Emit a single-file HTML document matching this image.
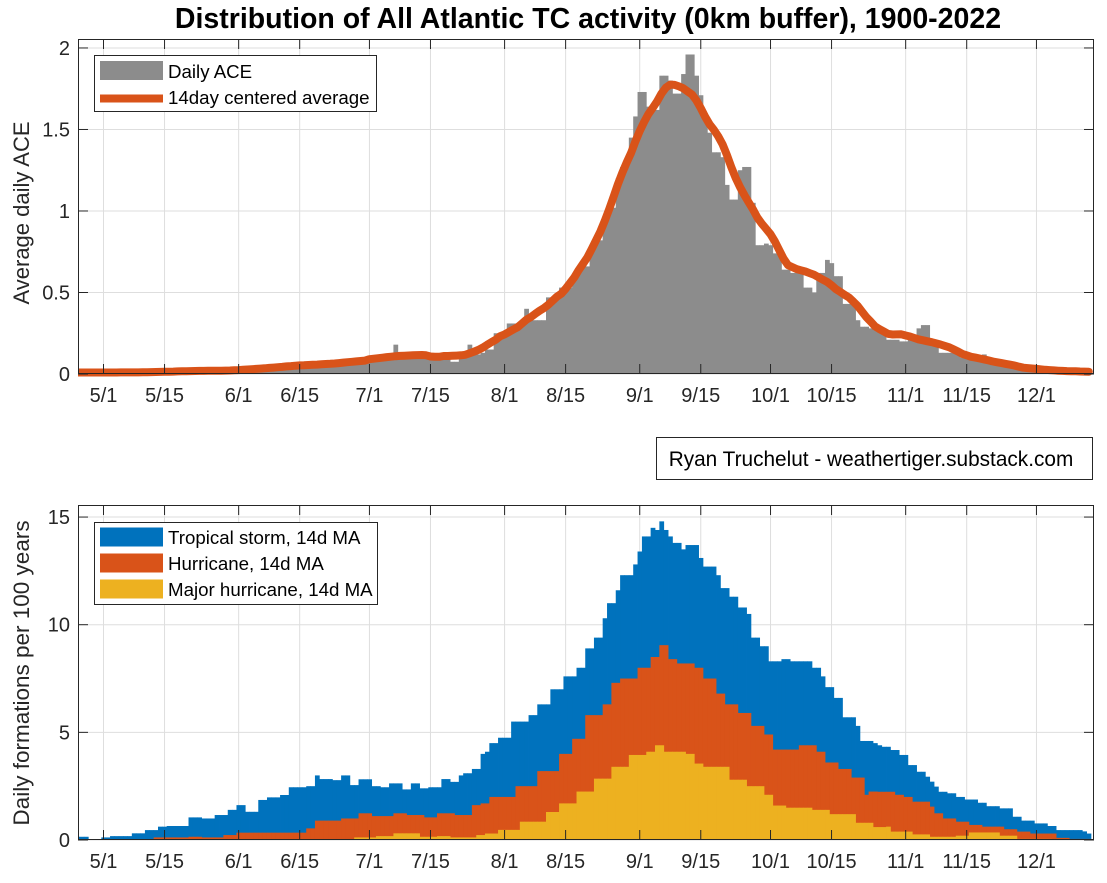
<!DOCTYPE html>
<html><head><meta charset="utf-8"><style>
html,body{margin:0;padding:0;background:#fff;}
svg{display:block;font-family:"Liberation Sans",Arial,sans-serif;}
</style></head><body>
<svg id="chart" width="1107" height="883" viewBox="0 0 1107 883">
<text x="588" y="28" text-anchor="middle" font-size="28.5" font-weight="bold" fill="#000">Distribution of All Atlantic TC activity (0km buffer), 1900-2022</text>
<g id="top"></g>
<g id="bot"></g>
<text transform="translate(29,213) rotate(-90)" text-anchor="middle" font-size="22" fill="#262626">Average daily ACE</text>
<text transform="translate(29,673) rotate(-90)" text-anchor="middle" font-size="22.5" fill="#262626">Daily formations per 100 years</text>
<g>
<rect x="656.5" y="437.5" width="436" height="42" fill="#fff" stroke="#262626" stroke-width="1"/>
<text x="871" y="466" text-anchor="middle" font-size="20.8" fill="#000">Ryan Truchelut - weathertiger.substack.com</text>
</g>
</svg>
<script>
// day index: 0 = 5/1 ; data runs from day -6 (4/25) to day 226
const startDay = -6;
const xTickDays = [0,14,31,45,61,75,92,106,123,137,153,167,184,198,214];
const xTickLabels = ["5/1","5/15","6/1","6/15","7/1","7/15","8/1","8/15","9/1","9/15","10/1","10/15","11/1","11/15","12/1"];
const topYTicks = [0,0.5,1,1.5,2];
const topYLabels = ["0","0.5","1","1.5","2"];
const botYTicks = [0,5,10,15];
const botYLabels = ["0","5","10","15"];
const dailyACE = [
0.01,0.01,0.005,0.01,0.01,0.01,
0.01,0.01,0.01,0.005,0.01,0.01,0.01,0.01,0.01,0.01,
0.01,0.01,0.01,0.01,0.015,0.015,0.015,0.015,0.02,0.02,
0.02,0.02,0.02,0.02,0.02,0.02,0.02,0.02,0.02,0.02,
0.02,0.02,0.02,0.025,0.025,0.03,0.035,0.04,0.045,0.045,
0.045,0.05,0.045,0.045,0.05,0.05,0.05,0.055,0.065,0.06,
0.065,0.065,0.06,0.065,0.07,0.065,0.065,0.07,0.07,0.075,
0.09,0.095,0.095,0.1,0.095,0.1,0.1,0.18,0.11,0.11,
0.11,0.12,0.11,0.11,0.12,0.11,0.11,0.12,0.11,0.11,
0.075,0.075,0.1,0.1,0.18,0.12,0.12,0.13,0.15,0.15,
0.25,0.25,0.26,0.31,0.31,0.31,0.31,0.40,0.33,0.33,
0.33,0.33,0.47,0.47,0.47,0.53,0.53,0.53,0.6,0.66,
0.66,0.66,0.75,0.82,0.82,0.95,1.02,1.02,1.2,1.27,
1.3,1.45,1.58,1.73,1.73,1.64,1.64,1.62,1.83,1.83,
1.8,1.72,1.72,1.84,1.96,1.96,1.83,1.71,1.6,1.48,
1.36,1.36,1.33,1.16,1.07,1.07,1.25,1.27,1.27,1.05,
0.79,0.79,0.8,0.79,0.74,0.74,0.64,0.64,0.62,0.62,
0.62,0.53,0.53,0.5,0.62,0.62,0.7,0.68,0.6,0.6,
0.43,0.43,0.43,0.33,0.29,0.29,0.28,0.27,0.26,0.25,
0.21,0.21,0.21,0.2,0.2,0.22,0.22,0.28,0.3,0.3,
0.18,0.18,0.13,0.13,0.13,0.13,0.13,0.1,0.1,0.1,
0.1,0.1,0.12,0.1,0.055,0.055,0.055,0.055,0.055,0.04,
0.035,0.035,0.03,0.03,0.03,0.025,0.025,0.02,0.02,0.02,
0.02,0.015,0.015,0.015,0.01,0.01,0.01];
const tropicalStorm = [
0.15,0.15,0.15,0,0,0,
0.12,0.12,0.18,0.18,0.18,0.18,0.18,0.31,0.31,0.31,
0.46,0.46,0.46,0.62,0.62,0.65,0.65,0.65,0.65,0.65,
1.05,1.05,1.05,1.0,1.0,1.0,1.16,1.16,1.16,1.4,
1.4,1.62,1.62,1.31,1.31,1.31,1.86,1.86,1.98,1.98,
1.98,2.09,2.09,2.45,2.45,2.45,2.45,2.5,2.5,3.0,
2.83,2.83,2.83,2.78,2.78,3.0,3.0,2.55,2.55,2.82,
2.82,2.82,2.5,2.5,2.45,2.45,2.63,2.63,2.63,2.35,
2.35,2.63,2.63,2.4,2.4,2.45,2.45,2.45,2.83,2.83,
2.7,2.7,3.0,3.1,3.1,3.3,3.3,4.0,4.1,4.5,
4.5,4.75,4.75,4.75,5.5,5.5,5.5,5.5,5.8,5.8,
6.3,6.3,6.3,7.0,7.0,7.0,7.6,7.6,7.6,8.0,
8.0,8.9,8.9,9.4,9.4,10.3,11.0,11.0,11.6,12.3,
12.3,12.3,12.8,13.4,14.1,14.1,14.5,14.4,14.8,14.4,
14.1,13.8,13.8,13.5,13.7,13.7,13.7,13.1,12.7,12.7,
12.7,12.3,11.7,11.7,11.3,11.3,10.8,10.8,10.5,9.4,
9.4,9.0,9.0,8.3,8.3,8.3,8.4,8.4,8.3,8.3,
8.3,8.3,8.3,8.0,8.0,7.6,7.1,7.1,6.6,6.6,
5.7,5.7,5.7,5.3,4.6,4.6,4.6,4.5,4.4,4.33,
4.33,4.18,4.18,3.95,3.95,3.48,3.48,3.17,3.17,2.94,
2.71,2.48,2.24,2.24,2.17,2.17,2.0,2.0,1.88,1.88,
1.88,1.73,1.73,1.57,1.57,1.57,1.47,1.47,1.47,1.08,
1.08,0.9,0.9,0.9,0.77,0.77,0.77,0.65,0.65,0.46,
0.46,0.46,0.46,0.46,0.46,0.4,0.3];
const hurricane = [
0,0,0,0,0,0,
0,0,0,0,0,0,0,0,0,0,
0,0,0.12,0.12,0.12,0.12,0.12,0.12,0.12,0.12,
0.15,0.15,0.15,0.12,0.12,0.12,0.12,0.12,0.23,0.23,
0.23,0.34,0.34,0.34,0.34,0.34,0.34,0.34,0.34,0.34,
0.34,0.34,0.34,0.34,0.34,0.34,0.34,0.54,0.54,0.9,
0.9,0.9,0.9,0.9,0.9,1.0,1.0,1.0,1.0,1.24,
1.24,1.24,1.11,1.11,1.11,1.11,1.11,1.24,1.24,1.24,
1.16,1.16,1.16,1.16,1.05,1.05,1.05,1.24,1.24,1.24,
1.24,1.16,1.16,1.16,1.16,1.62,1.62,1.7,1.7,2.0,
2.0,2.0,2.0,2.0,2.0,2.5,2.5,2.5,2.5,2.5,
3.2,3.2,3.2,3.2,3.2,4.0,4.0,4.0,4.7,4.7,
4.7,5.8,5.8,5.8,5.8,6.3,6.3,7.3,7.3,7.5,
7.5,7.5,7.5,8.0,8.0,8.0,8.5,8.5,9.05,9.05,
8.4,8.4,8.2,8.2,8.2,8.2,8.0,8.0,7.5,7.5,
7.5,6.8,6.8,6.3,6.3,6.3,5.9,5.9,5.9,5.3,
5.3,5.3,4.9,4.9,4.2,4.2,4.2,4.2,4.2,4.2,
4.4,4.4,4.4,4.4,4.1,4.1,3.6,3.6,3.6,3.3,
3.3,3.3,2.9,2.9,2.9,2.1,2.25,2.25,2.24,2.24,
2.24,2.24,2.1,2.1,2.0,2.0,1.78,1.78,1.78,1.78,
1.55,1.24,1.24,1.0,1.0,1.0,0.85,0.85,0.85,0.7,
0.7,0.7,0.62,0.62,0.62,0.62,0.62,0.5,0.5,0.5,
0.39,0.39,0.39,0.3,0.3,0.3,0.3,0.3,0.3,0.1,
0.1,0.1,0.05,0.05,0.05,0.05,0.05];
const majorHurricane = [
0,0,0,0,0,0,
0,0,0,0,0,0,0,0,0,0,
0,0,0,0,0,0,0,0,0,0,
0,0,0,0,0,0,0,0,0,0,
0,0,0,0,0,0,0,0,0,0,
0,0,0,0,0,0,0,0,0,0,
0,0,0,0,0,0,0,0,0.12,0.12,
0.12,0.12,0.12,0.18,0.18,0.18,0.18,0.31,0.31,0.31,
0.31,0.31,0.31,0.15,0.15,0.15,0.15,0.18,0.18,0.18,
0.12,0.12,0.12,0.12,0.12,0.12,0.23,0.23,0.3,0.3,
0.3,0.47,0.47,0.47,0.47,0.47,0.85,0.85,0.85,0.85,
0.85,0.85,1.3,1.3,1.3,1.7,1.7,1.7,1.7,2.25,
2.25,2.25,2.25,2.85,2.85,2.85,2.85,3.4,3.4,3.4,
3.4,3.95,3.95,3.95,3.95,4.1,4.1,4.4,4.4,4.1,
4.1,4.1,4.1,4.1,4.0,4.0,3.55,3.55,3.4,3.4,
3.4,3.4,3.4,3.4,2.8,2.8,2.8,2.8,2.5,2.5,
2.5,2.5,2.1,2.1,1.6,1.6,1.6,1.5,1.5,1.5,
1.5,1.5,1.5,1.4,1.4,1.4,1.4,1.2,1.2,1.2,
1.2,1.2,1.2,0.8,0.8,0.8,0.8,0.6,0.6,0.6,
0.62,0.39,0.39,0.39,0.39,0.39,0.26,0.26,0.26,0.26,
0.15,0.15,0.15,0.15,0.15,0.15,0.2,0.2,0.2,0.35,
0.35,0.35,0.35,0.35,0.35,0.35,0.2,0.2,0.2,0.2,
0.05,0.05,0.05,0.05,0.05,0.05,0.05,0.05,0.02,0.02,
0.02,0,0,0,0,0,0];

const NS='http://www.w3.org/2000/svg';
function mk(tag, attrs, parent){const e=document.createElementNS(NS,tag);for(const k in attrs)e.setAttribute(k,attrs[k]);if(parent)parent.appendChild(e);return e;}
const L=78, R=1094;
const xDomain=[-5.85, 227.2];
function xs(d){return L+(d-xDomain[0])/(xDomain[1]-xDomain[0])*(R-L);}

function movingAvg(arr,w){const out=[];for(let i=0;i<arr.length;i++){let s=0,n=0;for(let j=i-w/2;j<i+w/2;j++){if(j>=0&&j<arr.length){s+=arr[j];n++;}}out.push(s/n);}return out;}

function drawAxes(g, top, bottom, yMax, yTicks, yLabels, id){
  const ys=v=>bottom-(v/yMax)*(bottom-top);
  mk('rect',{x:L,y:top,width:R-L,height:bottom-top,fill:'#fff'},g);
  const grid=mk('g',{stroke:'#dedede','stroke-width':1},g);
  
  
  xTickDays.forEach(d=>mk('line',{x1:xs(d),x2:xs(d),y1:top,y2:bottom},grid));
  yTicks.forEach(v=>mk('line',{x1:L,x2:R,y1:ys(v),y2:ys(v)},grid));
  const cp=mk('clipPath',{id:id+'clip'},g);
  mk('rect',{x:L,y:top,width:R-L,height:bottom-top+6},cp);
  const plot=mk('g',{'clip-path':'url(#'+id+'clip)'},g);
  return {ys,plot};
}
function drawFrame(g, top, bottom, yMax, yTicks, yLabels, id, ys){
  const fr=mk('g',{stroke:'#262626','stroke-width':1,fill:'none'},g);
  
  
  mk('rect',{x:L+0.5,y:top+0.5,width:R-L-1,height:bottom-top-1},fr);
  xTickDays.forEach(d=>{const x=xs(d);mk('line',{x1:x,x2:x,y1:bottom,y2:bottom-10},fr);mk('line',{x1:x,x2:x,y1:top,y2:top+10},fr);});
  yTicks.forEach(v=>{const y=ys(v);mk('line',{x1:L,x2:L+10,y1:y,y2:y},fr);mk('line',{x1:R,x2:R-10,y1:y,y2:y},fr);});
  const xl=mk('g',{'font-size':20,fill:'#262626','text-anchor':'middle'},g);
  
  
  xTickDays.forEach((d,i)=>{const t=mk('text',{x:xs(d),y:bottom+28},xl);t.textContent=xTickLabels[i];});
  const yl=mk('g',{'font-size':20,fill:'#262626','text-anchor':'end'},g);
  
  
  yTicks.forEach((v,i)=>{const t=mk('text',{x:L-8,y:ys(v)+7},yl);t.textContent=yLabels[i];});
}
function bars(plot, arr, ys, color, name){
  const g=mk('g',{fill:color},plot);
  
  
  arr.forEach((v,i)=>{if(v<=0)return;const d=startDay+i;const x0=xs(d-0.5),x1=xs(d+0.5);
    const r=mk('rect',{x:x0,y:ys(v),width:x1-x0+0.4,height:ys(0)-ys(v)},g);
    
    
  });
}

// top chart
(function(){
  const g=document.getElementById('top');
  const top=39,bottom=374,yMax=2.055;
  const {ys,plot}=drawAxes(g,top,bottom,yMax,topYTicks,topYLabels,'top');
  bars(plot,dailyACE,ys,'#8c8c8c','daily-ace');
  const avg=movingAvg(dailyACE,14);
  const pts=avg.map((v,i)=>xs(startDay+i).toFixed(1)+','+ys(v).toFixed(1)).join(' ');
  const pl=mk('polyline',{points:pts,fill:'none',stroke:'#D95319','stroke-width':8,'stroke-linejoin':'round','stroke-linecap':'round'},plot);
  
  
  drawFrame(g,top,bottom,yMax,topYTicks,topYLabels,'top',ys);
  const lg=mk('g',{},g);
  
  
  mk('rect',{x:94.5,y:55.5,width:282,height:56,fill:'#fff',stroke:'#262626'},lg);
  mk('rect',{x:100,y:61,width:63,height:19,fill:'#8c8c8c'},lg);
  mk('rect',{x:100,y:94.5,width:63,height:8,fill:'#D95319'},lg);
  let t=mk('text',{x:168,y:78,'font-size':18.7,fill:'#000'},lg);t.textContent='Daily ACE';
  t=mk('text',{x:168,y:104,'font-size':18.7,fill:'#000'},lg);t.textContent='14day centered average';
})();

// bottom chart
(function(){
  const g=document.getElementById('bot');
  const top=505,bottom=840,yMax=15.56;
  const {ys,plot}=drawAxes(g,top,bottom,yMax,botYTicks,botYLabels,'bottom');
  bars(plot,tropicalStorm,ys,'#0072BD','tropical-storm');
  bars(plot,hurricane,ys,'#D95319','hurricane');
  bars(plot,majorHurricane,ys,'#EDB120','major-hurricane');
  drawFrame(g,top,bottom,yMax,botYTicks,botYLabels,'bottom',ys);
  const lg=mk('g',{},g);
  
  
  mk('rect',{x:94.5,y:522.5,width:283,height:82,fill:'#fff',stroke:'#262626'},lg);
  const items=[['#0072BD','Tropical storm, 14d MA'],['#D95319','Hurricane, 14d MA'],['#EDB120','Major hurricane, 14d MA']];
  items.forEach((it,i)=>{const cy=537+i*26;
    mk('rect',{x:100,y:cy-9.5,width:63,height:19,fill:it[0]},lg);
    const t=mk('text',{x:168,y:cy+7,'font-size':18.7,fill:'#000'},lg);t.textContent=it[1];});
})();
</script>
</body></html>
